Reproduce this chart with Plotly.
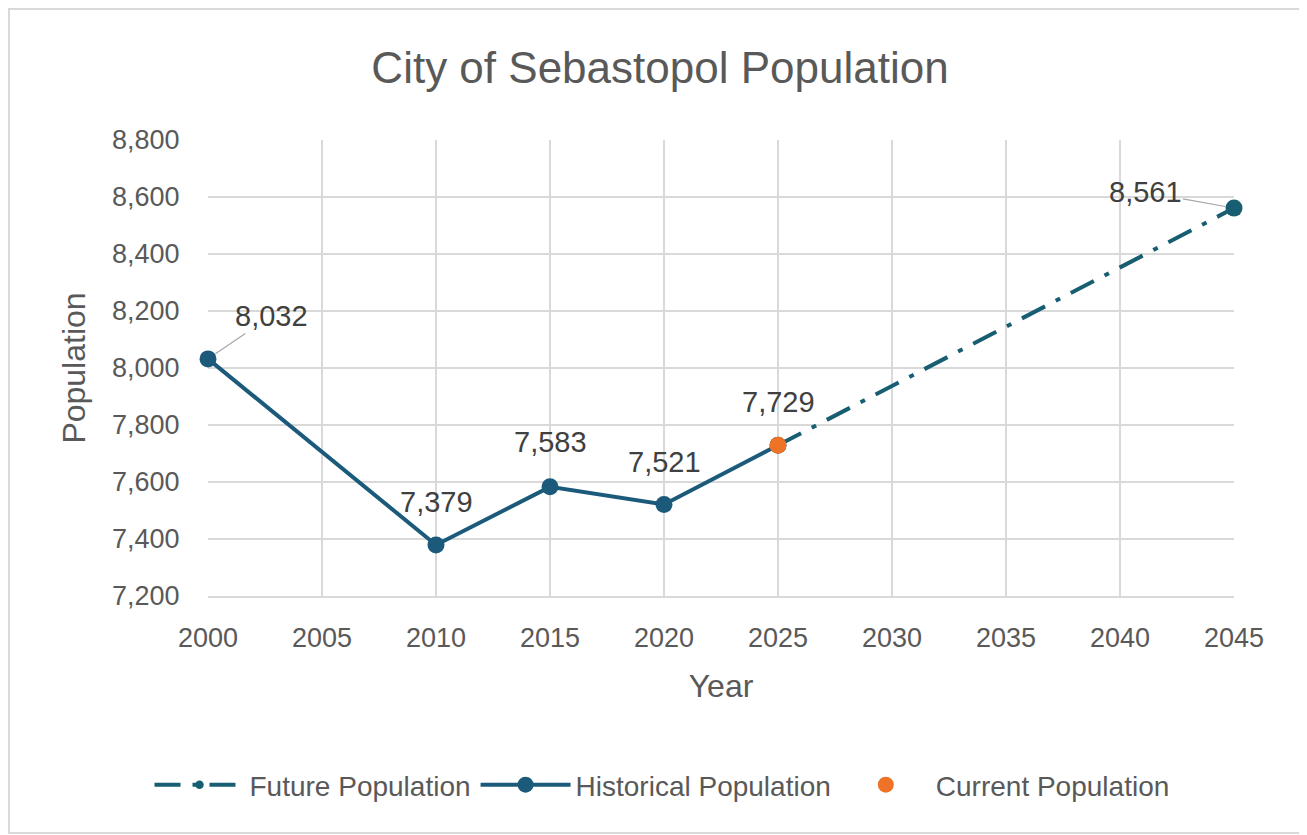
import plotly.graph_objects as go

hist_years = [2000, 2010, 2015, 2020, 2025]
hist_pop = [8032, 7379, 7583, 7521, 7729]
future_years = [2025, 2045]
future_pop = [7729, 8561]
current_year = [2025]
current_pop = [7729]

label_years = [2000, 2010, 2015, 2020, 2025, 2045]
label_pop = [8032, 7379, 7583, 7521, 7729, 8561]
x_ticks = [2000, 2005, 2010, 2015, 2020, 2025, 2030, 2035, 2040, 2045]

FONT = "Liberation Sans"
GREY = "#595959"
HIST = "#1B5A7A"
FUT = "#175E72"
ORANGE = "#EE7326"

W, H = 1299, 827
OFF = 8  # page body margin
L, R, T, B = 200, 73, 132, 239
PW, PH = W - L - R, H - T - B

fig = go.Figure()
fig.add_trace(go.Scatter(
    x=future_years, y=future_pop, name="Future Population", mode="lines+markers",
    line=dict(color=FUT, width=4, dash="26px,12px,5px,12px"),
    marker=dict(size=[0, 17], color=FUT, opacity=1, line=dict(width=0)), cliponaxis=False,
))
fig.add_trace(go.Scatter(
    x=hist_years, y=hist_pop, name="Historical Population", mode="lines+markers",
    line=dict(color=HIST, width=4),
    marker=dict(size=17, color=HIST), cliponaxis=False,
))
fig.add_trace(go.Scatter(
    x=current_year, y=current_pop, name="Current Population", mode="markers",
    marker=dict(size=17, color=ORANGE), cliponaxis=False,
))

offsets = {2000: (63, -43), 2010: (0, -43), 2015: (0, -45), 2020: (0, -43), 2025: (0, -43), 2045: (-89, -16)}
for yr, val in zip(label_years, label_pop):
    ax, ay = offsets[yr]
    arrow = yr in (2000, 2045)
    fig.add_annotation(
        x=yr, y=val, xref="x", yref="y", text=f"{val:,}",
        showarrow=True, arrowhead=0, arrowwidth=1.2,
        arrowcolor="#A6A6A6" if arrow else "rgba(0,0,0,0)",
        ax=ax, ay=ay, standoff=9 if arrow else 0,
        font=dict(family=FONT, size=29, color="#404040"),
    )

# outer chart border, in figure pixel coordinates
px0 = L
py_bottom = H - B
fig.add_shape(type="rect", xref="paper", yref="paper",
              x0=(1 - px0) / PW, x1=(W - 3 - px0) / PW,
              y0=(py_bottom - (H - 2)) / PH, y1=(py_bottom - 1) / PH,
              line=dict(color="#D9D9D9", width=2), layer="below")

fig.update_layout(
    width=W, height=H,
    margin=dict(l=L, r=R, t=T, b=B, autoexpand=False),
    paper_bgcolor="white", plot_bgcolor="white",
    font=dict(family=FONT, color=GREY),
    title=dict(text="City of Sebastopol Population", x=(660 - OFF) / W, xanchor="center",
               xref="container", y=1 - (68 - OFF) / H, yanchor="middle", yref="container",
               font=dict(size=44, color=GREY)),
    legend=dict(orientation="h", x=(662 - OFF - L) / PW, xanchor="center", xref="paper",
                y=(py_bottom - (785 - OFF)) / PH, yanchor="middle", yref="paper",
                font=dict(size=28, color=GREY), itemwidth=90),
    showlegend=True,
)
fig.update_xaxes(
    range=[2000, 2045], tickvals=x_ticks, ticktext=[str(t) for t in x_ticks],
    showgrid=True, gridcolor="#D9D9D9", gridwidth=1.5, zeroline=False,
    showline=True, linecolor="#D9D9D9", linewidth=1.5,
    tickfont=dict(size=27, color=GREY), ticks="outside", ticklen=17, tickcolor="rgba(0,0,0,0)",
    title=dict(text="Year", font=dict(size=32, color=GREY), standoff=22),
)
fig.update_yaxes(
    range=[7200, 8800], dtick=200, tickformat=",",
    showgrid=True, gridcolor="#D9D9D9", gridwidth=1.5, zeroline=False,
    tickfont=dict(size=27, color=GREY), ticks="outside", ticklen=22, tickcolor="rgba(0,0,0,0)",
    title=dict(text="Population", font=dict(size=32, color=GREY), standoff=16),
)

fig.write_html("out.html")
